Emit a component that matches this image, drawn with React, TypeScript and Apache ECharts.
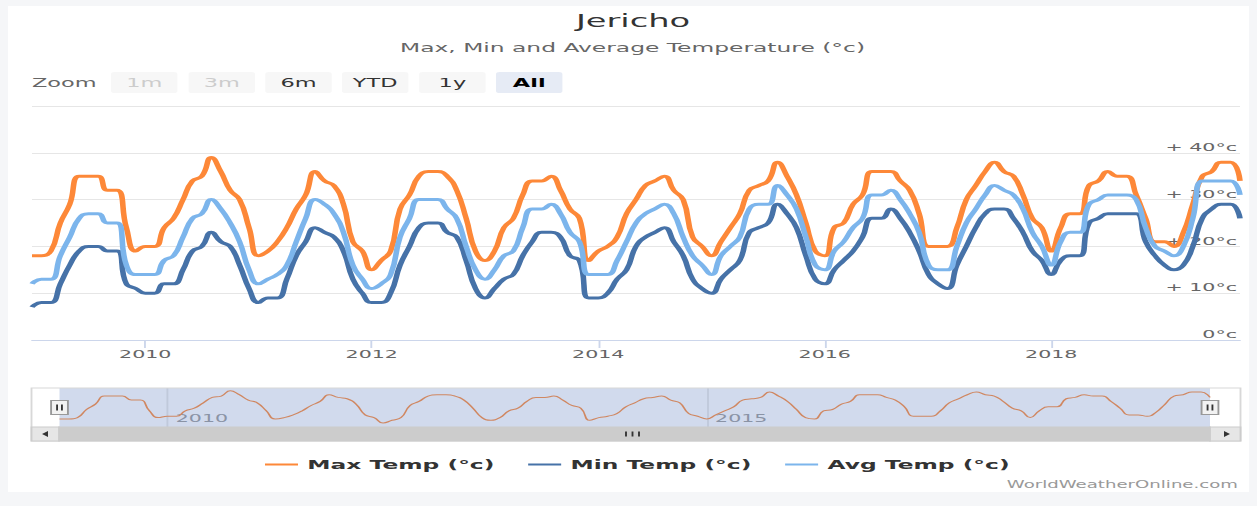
import React, { useEffect, useRef } from 'react';
import * as echarts from 'echarts';

// ---------- data ----------
const months: string[] = [];
for (let y = 2009; y <= 2019; y++) {
  for (let m = 1; m <= 12; m++) {
    if (y === 2019 && m > 9) break;
    months.push(`${y}-${String(m).padStart(2, '0')}`);
  }
}

const maxTemp = [
  18, 18, 19, 25, 29, 35, 35, 35, 32, 32, 24, 19,
  20, 20, 24, 26, 30, 34, 35, 39, 36, 32, 30, 24,
  18, 19, 21, 24, 28, 31, 36, 34, 33, 29, 21, 19,
  15, 17, 19, 28, 31, 35, 36, 36, 35, 32, 26, 19,
  17, 19, 24, 26, 31, 34, 34, 35, 32, 28, 26, 17,
  19, 20, 22, 27, 30, 33, 34, 35, 32, 30, 22, 20,
  18, 21, 24, 27, 32, 33, 34, 38, 35, 31, 25, 19,
  18, 24, 25, 29, 31, 36, 36, 36, 34, 32, 27, 20,
  20, 20, 24, 30, 33, 36, 38, 36, 35, 31, 26, 24,
  19, 24, 27, 27, 33, 34, 36, 35, 35, 31, 26, 21,
  21, 20, 23, 29, 35, 36, 38, 38, 34,
];

const minTemp = [
  7, 8, 8, 12, 16, 19, 20, 20, 19, 19, 12, 11,
  10, 10, 12, 12, 15, 19, 20, 23, 21, 20, 16, 11,
  8, 9, 9, 13, 18, 21, 24, 23, 22, 19, 13, 10,
  8, 8, 10, 16, 20, 24, 25, 25, 23, 22, 17, 11,
  9, 11, 13, 14, 18, 21, 23, 23, 22, 18, 17, 9,
  9, 10, 13, 15, 20, 22, 23, 24, 21, 18, 13, 11,
  10, 13, 15, 17, 23, 24, 25, 29, 27, 24, 18, 13,
  12, 15, 17, 19, 22, 26, 26, 28, 26, 23, 19, 14,
  12, 11, 16, 20, 24, 27, 28, 28, 26, 23, 19, 17,
  14, 17, 18, 18, 25, 26, 27, 27, 27, 27, 21, 18,
  16, 15, 16, 20, 26, 28, 29, 29, 26,
];

const avgTemp = [
  12, 13, 13, 18, 22, 26, 27, 27, 25, 25, 16, 14,
  14, 14, 17, 18, 22, 26, 27, 30, 28, 25, 21, 15,
  12, 13, 14, 16, 21, 26, 30, 29, 27, 23, 16, 13,
  11, 12, 14, 22, 26, 30, 30, 30, 28, 26, 20, 15,
  13, 15, 18, 19, 24, 28, 28, 29, 27, 23, 21, 14,
  14, 14, 17, 21, 25, 27, 28, 29, 27, 22, 18, 16,
  14, 18, 20, 22, 28, 29, 29, 33, 31, 28, 22, 16,
  15, 19, 21, 24, 26, 31, 31, 32, 30, 27, 23, 16,
  15, 15, 20, 25, 28, 31, 33, 32, 31, 28, 23, 20,
  16, 21, 23, 23, 29, 30, 31, 31, 31, 30, 24, 20,
  19, 18, 20, 26, 34, 34, 34, 34, 31,
];

const seriesNames = ['Max Temp (°c)', 'Min Temp (°c)', 'Avg Temp (°c)'];
const seriesColors = ['#fd8838', '#4672a8', '#7cb5ec'];
const yTickLabels = ['0°c', '+ 10°c', '+ 20°c', '+ 30°c', '+ 40°c'];
const xTickYears = ['2010', '2012', '2014', '2016', '2018'];
const navTickYears = ['2010', '2015'];
const rangeButtons = ['1m', '3m', '6m', 'YTD', '1y', 'All'];
const disabledButtons = ['1m', '3m'];
const selectedButton = 'All';

// ---------- layout helpers ----------
const FONT = 'DejaVu Sans';
const W = 672;
const S = 1257 / W;
const u = (X: number) => X / S;

function buildGraphic() {
  const g: any[] = [];
  g.push({
    type: 'text', x: u(633), y: 21, z: 100,
    style: { text: 'Jericho', fill: '#333333', fontSize: 18, fontFamily: FONT, align: 'center', verticalAlign: 'middle' },
  });
  g.push({
    type: 'text', x: u(632.5), y: 48, z: 100,
    style: { text: 'Max, Min and Average Temperature (°c)', fill: '#666666', fontSize: 12.5, fontFamily: FONT, align: 'center', verticalAlign: 'middle' },
  });
  g.push({
    type: 'text', x: u(32), y: 82.5, z: 100,
    style: { text: 'Zoom', fill: '#666666', fontSize: 12, fontFamily: FONT, align: 'left', verticalAlign: 'middle' },
  });
  const starts = [111, 188.6, 265.3, 342, 419.2, 496];
  rangeButtons.forEach((b, i) => {
    const x0 = u(starts[i]);
    const w = u(66.4);
    const disabled = disabledButtons.includes(b);
    const sel = b === selectedButton;
    g.push({
      type: 'rect', z: 100,
      shape: { x: x0, y: 72, width: w, height: 21, r: 2 },
      style: { fill: sel ? '#e6ebf5' : '#f7f7f7', stroke: 'none' },
    });
    g.push({
      type: 'text', x: x0 + w / 2, y: 82.5, z: 101,
      style: {
        text: b, fill: disabled ? '#cccccc' : sel ? '#000000' : '#333333',
        fontSize: 12, fontWeight: sel ? 'bold' : 'normal', fontFamily: FONT,
        align: 'center', verticalAlign: 'middle',
      },
    });
  });
  // navigator outline
  g.push({
    type: 'rect', z: 50,
    shape: { x: u(31.5), y: 388, width: u(1240.5) - u(31.5), height: 53 },
    style: { fill: 'none', stroke: '#d8d8d8', lineWidth: 1 },
  });
  // scrollbar
  g.push({
    type: 'rect', z: 51,
    shape: { x: u(59), y: 427, width: u(1210) - u(59), height: 14 },
    style: { fill: '#cccccc', stroke: '#cccccc', lineWidth: 1 },
  });
  g.push({
    type: 'rect', z: 51,
    shape: { x: u(31.5), y: 427, width: u(59) - u(31.5), height: 14 },
    style: { fill: '#e6e6e6', stroke: '#cccccc', lineWidth: 1 },
  });
  g.push({
    type: 'rect', z: 51,
    shape: { x: u(1210), y: 427, width: u(1240.5) - u(1210), height: 14 },
    style: { fill: '#e6e6e6', stroke: '#cccccc', lineWidth: 1 },
  });
  g.push({
    type: 'polygon', z: 52,
    shape: { points: [[u(42), 434], [u(48), 431], [u(48), 437]] },
    style: { fill: '#333333' },
  });
  g.push({
    type: 'polygon', z: 52,
    shape: { points: [[u(1230), 434], [u(1224), 431], [u(1224), 437]] },
    style: { fill: '#333333' },
  });
  [626, 632.5, 639].forEach((X) => {
    g.push({
      type: 'line', z: 52,
      shape: { x1: u(X), y1: 431.5, x2: u(X), y2: 436.5 },
      style: { stroke: '#333333', lineWidth: 1 },
    });
  });
  // navigator handles
  [59.5, 1210].forEach((X) => {
    const cx = u(X);
    g.push({
      type: 'rect', z: 60,
      shape: { x: cx - 4.5, y: 400.5, width: 9, height: 14 },
      style: { fill: '#f2f2f2', stroke: '#999999', lineWidth: 1 },
    });
    [-1.3, 1.3].forEach((d) => {
      g.push({
        type: 'line', z: 61,
        shape: { x1: cx + d, y1: 404.5, x2: cx + d, y2: 410.5 },
        style: { stroke: '#333333', lineWidth: 1 },
      });
    });
  });
  // credits
  g.push({
    type: 'text', x: u(1238), y: 485, z: 100,
    style: { text: 'WorldWeatherOnline.com', fill: '#999999', fontSize: 9.7, fontFamily: FONT, align: 'right', verticalAlign: 'middle' },
  });
  return g;
}

const isYearTick = (years: string[]) => (_i: number, v: string) =>
  v.endsWith('-01') && years.includes(v.slice(0, 4));

export default function App() {
  const ref = useRef<HTMLDivElement>(null);
  useEffect(() => {
    if (!ref.current) return;
    const chart = echarts.init(ref.current, undefined, { renderer: 'svg' });
    const mainTick = isYearTick(xTickYears);
    const navTick = isYearTick(navTickYears);
    const option: any = {
      animation: false,
      textStyle: { fontFamily: FONT },
      grid: [
        { left: u(32), right: W - u(1240), top: 106, height: 234 },
        {
          left: u(59.5), right: W - u(1210), top: 388, height: 39,
          show: true, backgroundColor: 'rgba(102,133,194,0.3)', borderWidth: 0,
        },
      ],
      legend: {
        data: seriesNames,
        left: u(265) - 5,
        top: 453,
        icon: 'rect',
        itemWidth: u(298) - u(265),
        itemHeight: 2,
        itemGap: 18,
        textStyle: { fontFamily: FONT, fontWeight: 'bold', fontSize: 12.5, color: '#333333' },
      },
      xAxis: [
        {
          type: 'category', gridIndex: 0, data: months, boundaryGap: false,
          axisLine: { lineStyle: { color: '#ccd6eb' } },
          axisTick: { show: true, interval: mainTick, length: 8, lineStyle: { color: '#ccd6eb' } },
          axisLabel: {
            interval: mainTick, formatter: (v: string) => v.slice(0, 4),
            color: '#666666', fontSize: 11, fontFamily: FONT, margin: 9,
          },
          splitLine: { show: false },
        },
        {
          type: 'category', gridIndex: 1, data: months, boundaryGap: false,
          axisLine: { show: false }, axisTick: { show: false },
          axisLabel: {
            inside: true, interval: navTick, formatter: (v: string) => v.slice(0, 4),
            color: '#8a93a5', fontSize: 11, fontFamily: FONT, align: 'left',
            verticalAlign: 'middle', margin: 9, padding: [0, 0, 0, 4.5],
          },
          splitLine: { show: true, interval: navTick, lineStyle: { color: '#c0c9db', width: 1 } },
        },
      ],
      yAxis: [
        {
          type: 'value', gridIndex: 0, position: 'right', min: 0, max: 50, interval: 10,
          axisLine: { show: false }, axisTick: { show: false },
          splitLine: { lineStyle: { color: '#e6e6e6' } },
          axisLabel: {
            inside: true, margin: 1.6, verticalAlign: 'bottom',
            color: '#666666', fontSize: 11, fontFamily: FONT,
            formatter: (v: number) => yTickLabels[v / 10] ?? '',
          },
        },
        {
          type: 'value', gridIndex: 1, min: 12, max: 41,
          axisLine: { show: false }, axisTick: { show: false },
          axisLabel: { show: false }, splitLine: { show: false },
        },
      ],
      series: [
        ...[maxTemp, minTemp, avgTemp].map((d, i) => ({
          name: seriesNames[i], type: 'line', data: d, xAxisIndex: 0, yAxisIndex: 0,
          symbol: 'none', smooth: 0.5, color: seriesColors[i],
          lineStyle: { width: 3, color: seriesColors[i] },
        })),
        {
          name: 'Navigator', type: 'line', data: maxTemp, xAxisIndex: 1, yAxisIndex: 1,
          symbol: 'none', smooth: 0.5, silent: true,
          lineStyle: { width: 1, color: '#d08761' },
        },
      ],
      graphic: buildGraphic(),
    };
    chart.setOption(option);
    return () => chart.dispose();
  }, []);

  return (
    <div style={{ position: 'fixed', left: 0, top: 0, width: 1257, height: 506, background: '#f5f6f8', overflow: 'hidden' }}>
      <div style={{ position: 'absolute', left: 8, top: 6, width: 1241, height: 486, background: '#ffffff' }} />
      <div
        ref={ref}
        style={{
          position: 'absolute', left: 0, top: 0, width: W, height: 506,
          transform: `scaleX(${S})`, transformOrigin: '0 0',
        }}
      />
    </div>
  );
}
